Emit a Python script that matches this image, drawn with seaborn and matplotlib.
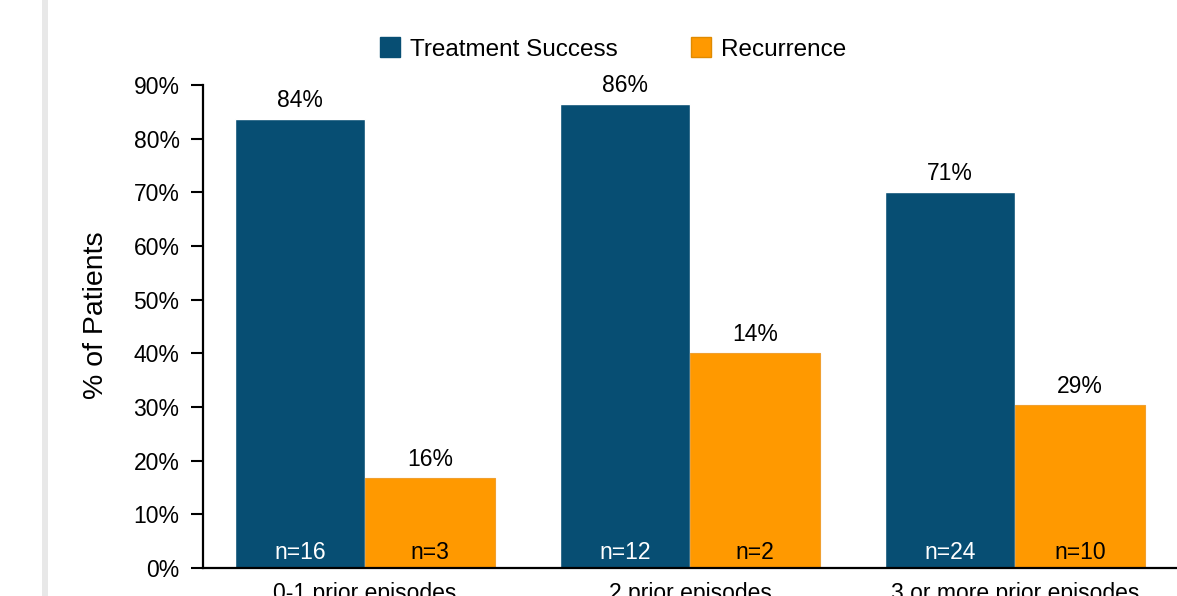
import matplotlib
matplotlib.use("Agg")
import matplotlib.pyplot as plt
import matplotlib.patches as mpatches
import seaborn as sns
import pandas as pd

categories = ["0-1 prior episodes", "2 prior episodes", "3 or more prior episodes"]
series = ["Treatment Success", "Recurrence"]
success_values = [83.6, 86.4, 70.0]
recurrence_values = [16.8, 40.0, 30.4]
success_labels = ["84%", "86%", "71%"]
recurrence_labels = ["16%", "14%", "29%"]
success_n = ["n=16", "n=12", "n=24"]
recurrence_n = ["n=3", "n=2", "n=10"]
yticks = [0, 10, 20, 30, 40, 50, 60, 70, 80, 90]

colors = {"Treatment Success": "#074E73", "Recurrence": "#FF9900"}

df = pd.DataFrame({
    "category": categories * 2,
    "series": [series[0]] * 3 + [series[1]] * 3,
    "value": success_values + recurrence_values,
})

sns.set_style("white")
plt.rcParams["font.family"] = ["Liberation Sans", "DejaVu Sans"]
plt.rcParams["text.color"] = "black"
plt.rcParams["axes.labelcolor"] = "black"
plt.rcParams["xtick.color"] = "black"
plt.rcParams["ytick.color"] = "black"

fig = plt.figure(figsize=(11.77, 5.96), dpi=100)
ax = fig.add_axes([202.5 / 1177, 28 / 596, 975 / 1177, 483 / 596])

sns.barplot(data=df, x="category", y="value", hue="series", order=categories,
            hue_order=series, palette=colors, width=0.8, gap=0, ax=ax,
            saturation=1, legend=False, errorbar=None)

for bar in ax.containers[1]:
    bar.set_edgecolor("#F0A030")
    bar.set_linewidth(0.8)

ax.set_xlim(-0.5, 2.5)
ax.set_ylim(0, 90)
ax.set_yticks(yticks)
ax.set_yticklabels([f"{t}%" for t in yticks])
ax.tick_params(axis="y", length=8.5, width=1.5, pad=8, labelsize=16.5, colors="black", left=True)
ax.tick_params(axis="x", length=0, pad=10, labelsize=16.5, colors="black")
ax.set_xlabel("")
ax.set_ylabel("% of Patients", fontsize=20.5, color="black")
ax.yaxis.set_label_coords(-0.096, 0.524)

for s in ["top", "right"]:
    ax.spines[s].set_visible(False)
for s in ["left", "bottom"]:
    ax.spines[s].set_color("black")
    ax.spines[s].set_linewidth(1.6)

for cont, labs, ns, ncol in [(ax.containers[0], success_labels, success_n, "white"),
                             (ax.containers[1], recurrence_labels, recurrence_n, "black")]:
    for bar, lab, n in zip(cont, labs, ns):
        cx = bar.get_x() + bar.get_width() / 2
        ax.annotate(lab, (cx, bar.get_height()), xytext=(0, 5), textcoords="offset points",
                    ha="center", va="bottom", fontsize=16.5, color="black")
        ax.text(cx, 2.8, n, ha="center", va="center", fontsize=16.5, color=ncol)

handles = [mpatches.Patch(facecolor=colors[s], edgecolor=colors[s] if i == 0 else "#E08A00",
                          label=s) for i, s in enumerate(series)]
fig.legend(handles=handles, loc="center", bbox_to_anchor=(613 / 1177, 1 - 49 / 596), ncol=2,
           frameon=False, fontsize=17.5, handlelength=0.85, handleheight=0.85,
           handletextpad=0.4, columnspacing=3.0, labelcolor="black")

fig.patches.append(mpatches.Rectangle((42 / 1177, 0), 6 / 1177, 1, transform=fig.transFigure,
                                      facecolor="#E8E8E8", edgecolor="none", zorder=0))

fig.savefig("out.png", dpi=100)
